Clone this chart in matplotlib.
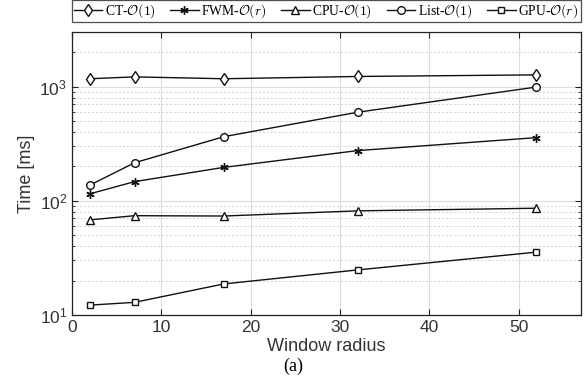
import matplotlib
matplotlib.use("Agg")
import matplotlib.pyplot as plt
from matplotlib.ticker import LogLocator, NullFormatter

radius = [2, 7, 17, 32, 52]
ct_o1 = [1170, 1215, 1170, 1225, 1265]
fwm_or = [115, 147, 196, 275, 357]
cpu_o1 = [68, 74, 73.5, 81.6, 86]
list_o1 = [137, 215, 364, 596, 990]
gpu_or = [12.2, 12.9, 18.7, 24.8, 35.5]

# (values, marker, size, label)
series = [
    (ct_o1, "d", 6, r"CT-$\mathcal{O}(1)$"),
    (fwm_or, (6, 2, 0), 6, r"FWM-$\mathcal{O}(r)$"),
    (cpu_o1, "^", 6, r"CPU-$\mathcal{O}(1)$"),
    (list_o1, "o", 5.5, r"List-$\mathcal{O}(1)$"),
    (gpu_or, "s", 4.5, r"GPU-$\mathcal{O}(r)$"),
]

plt.rcParams["font.family"] = ["Liberation Sans", "DejaVu Sans"]
plt.rcParams["mathtext.fontset"] = "custom"
plt.rcParams["mathtext.rm"] = "Liberation Sans"
plt.rcParams["mathtext.it"] = "Liberation Sans:italic"

fig = plt.figure(figsize=(5.86, 3.86), dpi=100)
ax = fig.add_axes([0.1229, 0.184, 0.8686, 0.733])

for vals, mk, ms, lab in series:
    ax.plot(radius, vals, color="#111111", lw=1.0, marker=mk, ms=ms,
            mfc="white", mec="#111111", mew=1.0, label=lab)

ax.set_yscale("log")
ax.set_xlim(0, 57)
ax.set_ylim(10, 3000)
ax.set_xticks([0, 10, 20, 30, 40, 50])
ax.yaxis.set_minor_locator(LogLocator(base=10, subs=range(2, 10)))
ax.yaxis.set_minor_formatter(NullFormatter())

ax.grid(True, which="major", color="#dcdcdc", lw=0.8, ls="-")
ax.grid(True, which="minor", axis="y", color="#d4d4d4", lw=0.7, ls=(0, (2, 2)))
ax.set_axisbelow(True)

ax.tick_params(which="both", direction="in", top=True, right=True,
               labelsize=12.5, colors="#222222", labelcolor="#333333")
ax.tick_params(which="major", length=4)
ax.tick_params(which="minor", length=2)
for sp in ax.spines.values():
    sp.set_color("#222222")
    sp.set_linewidth(0.9)

ax.set_xlabel("Window radius", fontsize=13, color="#333333", labelpad=2)
ax.set_ylabel("Time [ms]", fontsize=13, color="#333333", labelpad=3)

leg = ax.legend(loc="lower left", bbox_to_anchor=(-0.001, 1.035, 1.0, 0.06),
                mode="expand", ncol=5, frameon=True, fancybox=False,
                edgecolor="#222222", borderpad=0.15, handlelength=2.1,
                handletextpad=0.2, columnspacing=0.6, borderaxespad=0,
                prop={"family": "Liberation Serif", "size": 9.8})
leg.get_frame().set_linewidth(0.9)
for t in leg.get_texts():
    t.set_math_fontfamily("cm")

fig.text(0.5, 0.05, "(a)", ha="center", va="center",
         family="Liberation Serif", fontsize=13)

fig.savefig("out.png", dpi=100)
